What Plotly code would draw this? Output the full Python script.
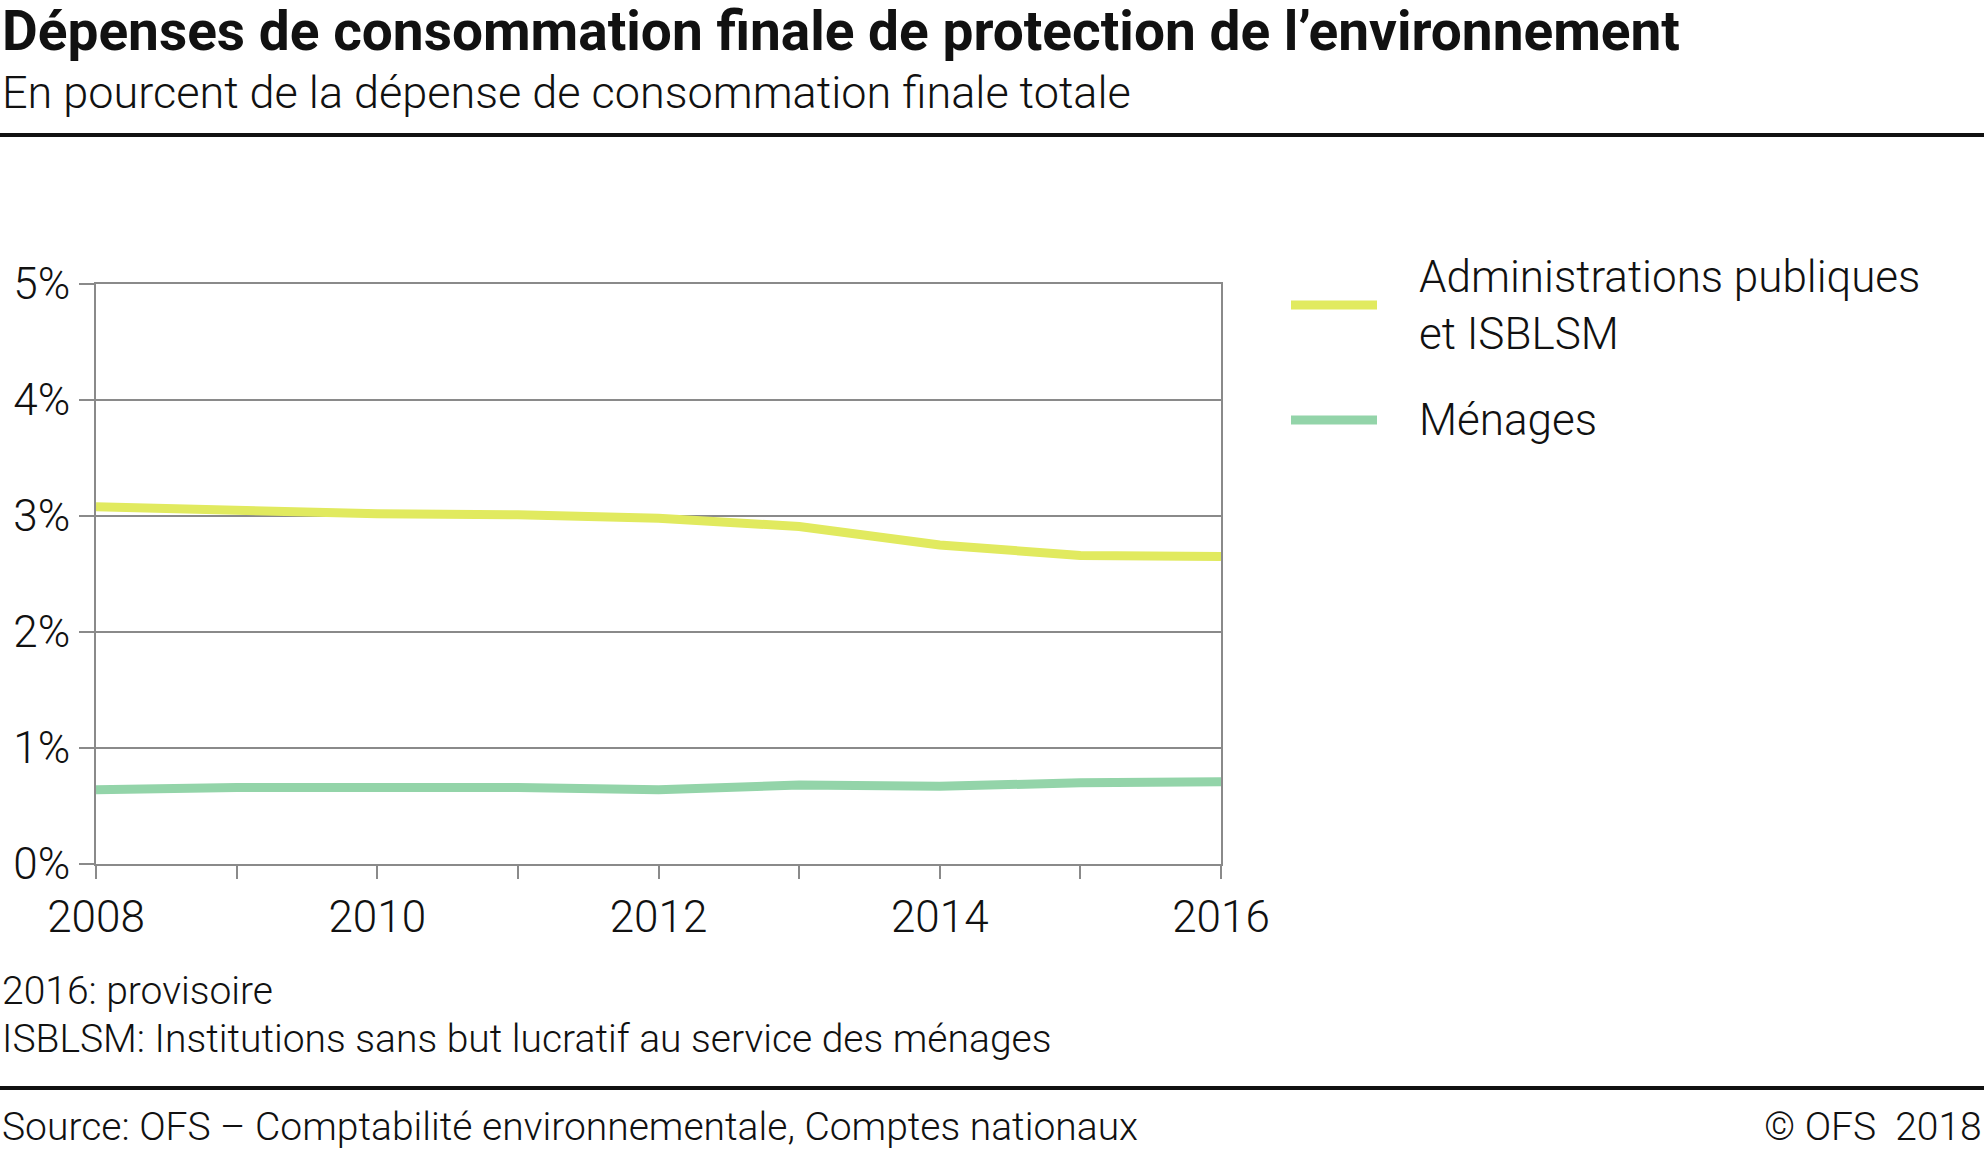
import plotly.graph_objects as go

years = [2008, 2009, 2010, 2011, 2012, 2013, 2014, 2015, 2016]
admin = [3.08, 3.05, 3.02, 3.01, 2.98, 2.91, 2.75, 2.66, 2.65]
menages = [0.64, 0.66, 0.66, 0.66, 0.64, 0.68, 0.67, 0.70, 0.71]
series_names = ["Administrations publiques<br>et ISBLSM", "Ménages"]
series_colors = ["#e1ea5f", "#93d4a9"]
y_ticks = [0, 1, 2, 3, 4, 5]
y_ticktext = ["0%", "1%", "2%", "3%", "4%", "5%"]
x_ticktext = ["2008", "", "2010", "", "2012", "", "2014", "", "2016"]

W, H = 1984, 1161
L, R, T, B = 96, 1221, 284, 864  # plot area in pixels
pw, ph = R - L, B - T


def px(x):
    return (x - L) / pw


def py(y):
    return (B - y) / ph


FONT = "Roboto"
fig = go.Figure()
for vals, name, col in zip([admin, menages], series_names, series_colors):
    fig.add_trace(go.Scatter(x=years, y=vals, mode="lines", name=name,
                             line=dict(color=col, width=9), showlegend=False,
                             hoverinfo="x+y"))

grid = "#8a8a8a"
fig.update_layout(
    width=W, height=H,
    margin=dict(l=L, r=W - R, t=T, b=H - B),
    paper_bgcolor="white", plot_bgcolor="white",
    font=dict(family=FONT, color="#111", size=44, weight=300),
    xaxis=dict(range=[2008, 2016], tickvals=years, ticktext=x_ticktext,
               ticks="outside", ticklen=13, tickwidth=2, tickcolor=grid,
               showgrid=False, showline=True, linecolor=grid, linewidth=2,
               mirror=True, zeroline=False,
               tickfont=dict(family=FONT, size=44, weight=300, color="#111")),
    yaxis=dict(range=[0, 5], tickvals=y_ticks, ticktext=y_ticktext,
               ticks="outside", ticklen=15, tickwidth=2, tickcolor=grid,
               showgrid=True, gridcolor=grid, gridwidth=2,
               showline=True, linecolor=grid, linewidth=2, mirror=True,
               zeroline=False,
               tickfont=dict(family=FONT, size=44, weight=300, color="#111")),
)

ann = []
shapes = []
# Title and subtitle
ann.append(dict(text="<b>Dépenses de consommation finale de protection de l’environnement</b>",
                x=px(0), y=py(31), xref="paper", yref="paper", xanchor="left", yanchor="middle",
                showarrow=False, font=dict(family=FONT, size=55, weight=700, color="#111")))
ann.append(dict(text="En pourcent de la dépense de consommation finale totale",
                x=px(0), y=py(92), xref="paper", yref="paper", xanchor="left", yanchor="middle",
                showarrow=False, font=dict(family=FONT, size=45, weight=300, color="#111")))
# Rules
for yy in [135, 1088]:
    shapes.append(dict(type="line", xref="paper", yref="paper", x0=px(0), x1=px(W),
                       y0=py(yy), y1=py(yy), line=dict(color="#111", width=4)))
# Legend
leg_y = [305, 420]
for name, col, ly in zip(series_names, series_colors, leg_y):
    shapes.append(dict(type="line", xref="paper", yref="paper", x0=px(1291), x1=px(1377),
                       y0=py(ly), y1=py(ly), line=dict(color=col, width=9)))
    ann.append(dict(text=name, x=px(1417), y=py(ly), xref="paper", yref="paper",
                    xanchor="left", yanchor="middle", align="left", showarrow=False,
                    font=dict(family=FONT, size=44, weight=300, color="#111")))
# Footnotes
notes = [("2016: provisoire", 991), ("ISBLSM: Institutions sans but lucratif au service des ménages", 1039)]
for t, yy in notes:
    ann.append(dict(text=t, x=px(0), y=py(yy), xref="paper", yref="paper", xanchor="left",
                    yanchor="middle", showarrow=False,
                    font=dict(family=FONT, size=39, weight=300, color="#111")))
ann.append(dict(text="Source: OFS – Comptabilité environnementale, Comptes nationaux",
                x=px(0), y=py(1127), xref="paper", yref="paper", xanchor="left", yanchor="middle",
                showarrow=False, font=dict(family=FONT, size=39, weight=300, color="#111")))
ann.append(dict(text="© OFS  2018", x=px(W), y=py(1127), xref="paper", yref="paper",
                xanchor="right", yanchor="middle", showarrow=False,
                font=dict(family=FONT, size=39, weight=300, color="#111")))

fig.update_layout(annotations=ann, shapes=shapes)
fig.write_html("out.html", config={"displayModeBar": False},
               post_script="document.body.style.margin='0px';")
